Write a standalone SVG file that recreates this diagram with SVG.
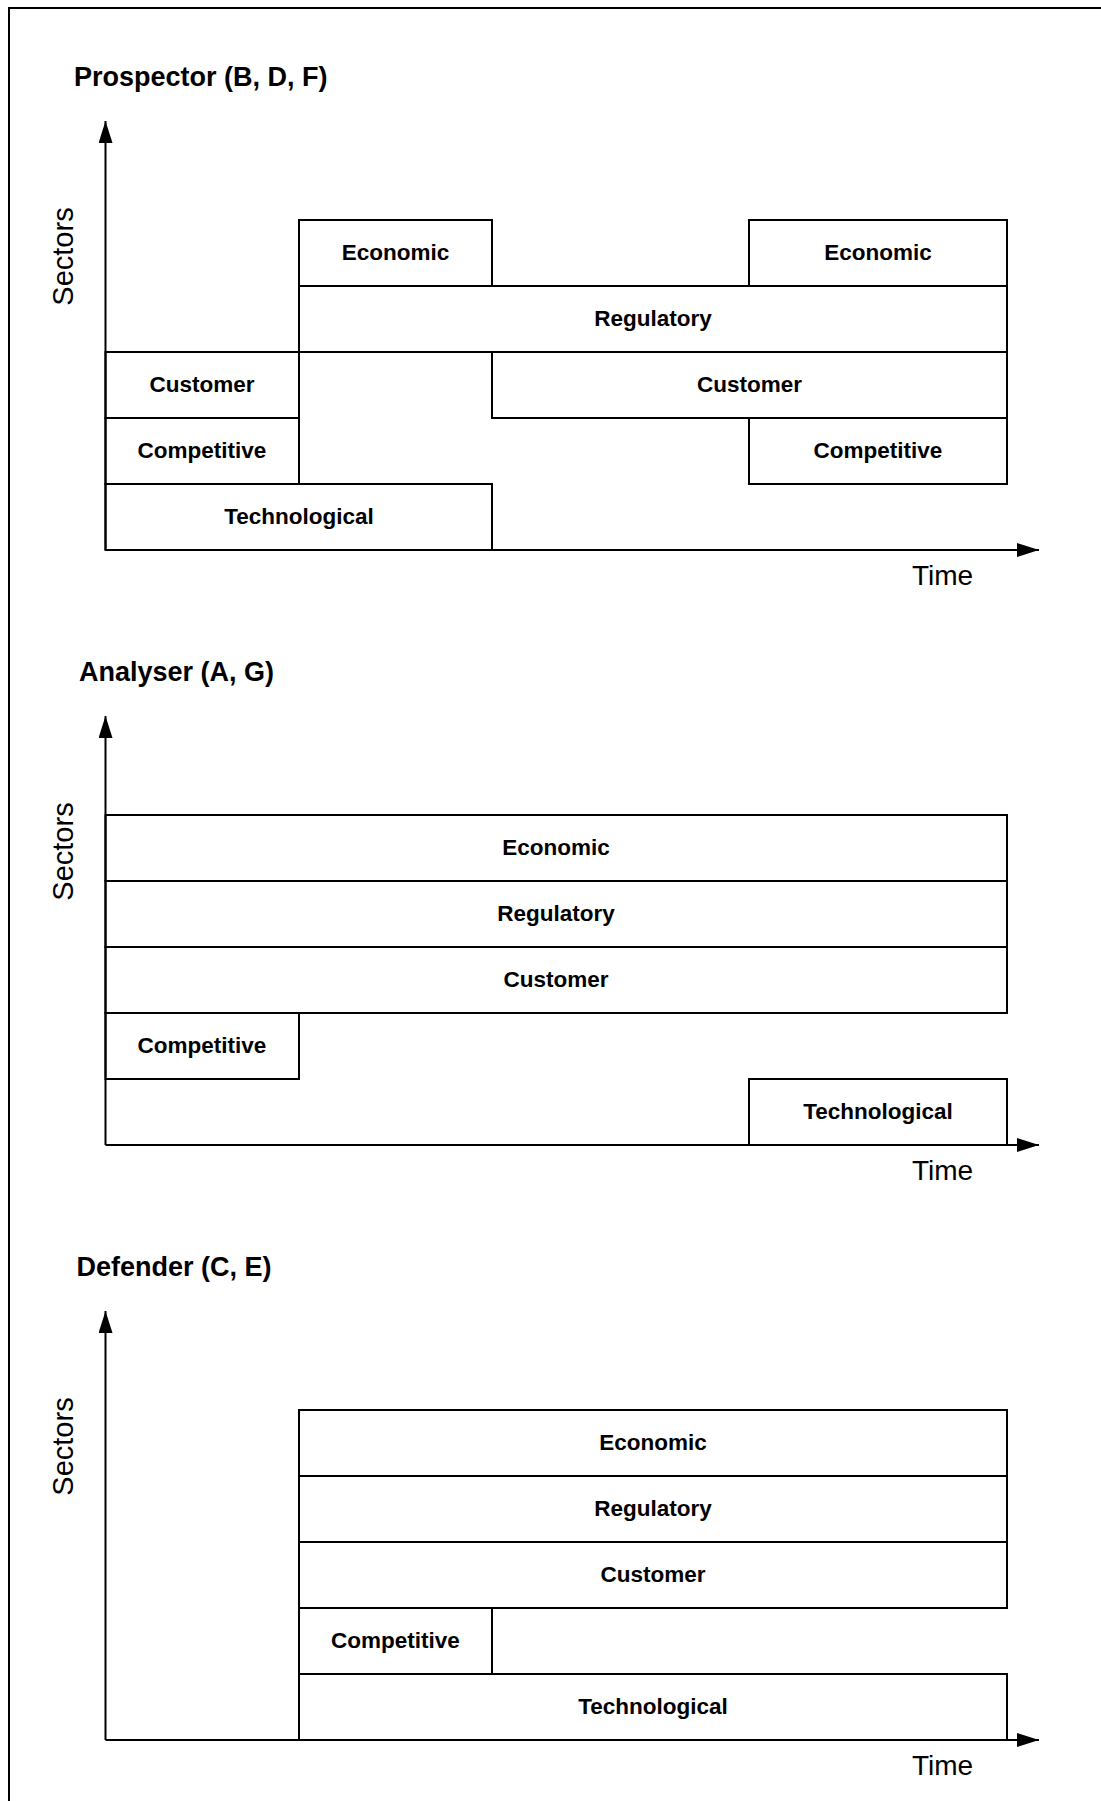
<svg xmlns="http://www.w3.org/2000/svg" width="1101" height="1801" viewBox="0 0 1101 1801">
  <style>
    .box { fill: #fff; stroke: #000; stroke-width: 2; }
    .axis { fill: none; stroke: #000; stroke-width: 2; }
    .lbl { font-family: "Liberation Sans", Arial, sans-serif; font-weight: bold; font-size: 22.5px; text-anchor: middle; fill: #000; }
    .title { font-family: "Liberation Sans", Arial, sans-serif; font-weight: bold; font-size: 27px; fill: #000; }
    .ax { font-family: "Liberation Sans", Arial, sans-serif; font-size: 28px; fill: #000; }
    .sec { font-family: "Liberation Sans", Arial, sans-serif; font-size: 29px; fill: #000; text-anchor: middle; }
  </style>
  <defs>
    <marker id="arrow" viewBox="0 0 22 14" refX="22" refY="7" markerWidth="22" markerHeight="14" markerUnits="userSpaceOnUse" orient="auto">
      <path d="M0,0 L22,7 L0,14 Z" fill="#000"/>
    </marker>
  </defs>
  <rect width="1101" height="1801" fill="#fff"/>
  <!-- frame (top and left edges only are in view) -->
  <rect x="9" y="8" width="1200" height="1900" fill="none" stroke="#000" stroke-width="2"/>

  <!-- Prospector -->
  <g id="prospector">
    <text class="title" x="74" y="86">Prospector (B, D, F)</text>
    <g id="p-economic-1"><rect class="box" x="299" y="220" width="193" height="66"/><text class="lbl" x="395.5" y="260.3">Economic</text></g>
    <g id="p-economic-2"><rect class="box" x="749" y="220" width="258" height="66"/><text class="lbl" x="878" y="260.3">Economic</text></g>
    <g id="p-regulatory"><rect class="box" x="299" y="286" width="708" height="66"/><text class="lbl" x="653" y="326.3">Regulatory</text></g>
    <g id="p-customer-1"><rect class="box" x="105.5" y="352" width="193.5" height="66"/><text class="lbl" x="202" y="392.3">Customer</text></g>
    <g id="p-customer-2"><rect class="box" x="492" y="352" width="515" height="66"/><text class="lbl" x="749.5" y="392.3">Customer</text></g>
    <g id="p-competitive-1"><rect class="box" x="105.5" y="418" width="193.5" height="66"/><text class="lbl" x="202" y="458.3">Competitive</text></g>
    <g id="p-competitive-2"><rect class="box" x="749" y="418" width="258" height="66"/><text class="lbl" x="878" y="458.3">Competitive</text></g>
    <g id="p-technological"><rect class="box" x="105.5" y="484" width="386.5" height="66"/><text class="lbl" x="299" y="524.3">Technological</text></g>
  </g>

  <!-- Analyser -->
  <g id="analyser">
    <text class="title" x="79" y="681">Analyser (A, G)</text>
    <g id="a-economic"><rect class="box" x="105.5" y="815" width="901.5" height="66"/><text class="lbl" x="556" y="855.3">Economic</text></g>
    <g id="a-regulatory"><rect class="box" x="105.5" y="881" width="901.5" height="66"/><text class="lbl" x="556" y="921.3">Regulatory</text></g>
    <g id="a-customer"><rect class="box" x="105.5" y="947" width="901.5" height="66"/><text class="lbl" x="556" y="987.3">Customer</text></g>
    <g id="a-competitive"><rect class="box" x="105.5" y="1013" width="193.5" height="66"/><text class="lbl" x="202" y="1053.3">Competitive</text></g>
    <g id="a-technological"><rect class="box" x="749" y="1079" width="258" height="66"/><text class="lbl" x="878" y="1119.3">Technological</text></g>
  </g>

  <!-- Defender -->
  <g id="defender">
    <text class="title" x="76.5" y="1276">Defender (C, E)</text>
    <g id="d-economic"><rect class="box" x="299" y="1410" width="708" height="66"/><text class="lbl" x="653" y="1450.3">Economic</text></g>
    <g id="d-regulatory"><rect class="box" x="299" y="1476" width="708" height="66"/><text class="lbl" x="653" y="1516.3">Regulatory</text></g>
    <g id="d-customer"><rect class="box" x="299" y="1542" width="708" height="66"/><text class="lbl" x="653" y="1582.3">Customer</text></g>
    <g id="d-competitive"><rect class="box" x="299" y="1608" width="193" height="66"/><text class="lbl" x="395.5" y="1648.3">Competitive</text></g>
    <g id="d-technological"><rect class="box" x="299" y="1674" width="708" height="66"/><text class="lbl" x="653" y="1714.3">Technological</text></g>
  </g>

  <!-- axes -->
  <g id="connectors">
    <line class="axis" x1="105.5" y1="550" x2="105.5" y2="121" marker-end="url(#arrow)"/>
    <line class="axis" x1="105.5" y1="550" x2="1039" y2="550" marker-end="url(#arrow)"/>
    <line class="axis" x1="105.5" y1="1145" x2="105.5" y2="716" marker-end="url(#arrow)"/>
    <line class="axis" x1="105.5" y1="1145" x2="1039" y2="1145" marker-end="url(#arrow)"/>
    <line class="axis" x1="105.5" y1="1740" x2="105.5" y2="1311" marker-end="url(#arrow)"/>
    <line class="axis" x1="105.5" y1="1740" x2="1039" y2="1740" marker-end="url(#arrow)"/>
  </g>

  <!-- axis labels -->
  <g id="axis-labels">
    <text class="sec" transform="translate(73,256.5) rotate(-90)">Sectors</text>
    <text class="ax" x="912" y="585">Time</text>
    <text class="sec" transform="translate(73,851.5) rotate(-90)">Sectors</text>
    <text class="ax" x="912" y="1180">Time</text>
    <text class="sec" transform="translate(73,1446.5) rotate(-90)">Sectors</text>
    <text class="ax" x="912" y="1775">Time</text>
  </g>
</svg>
